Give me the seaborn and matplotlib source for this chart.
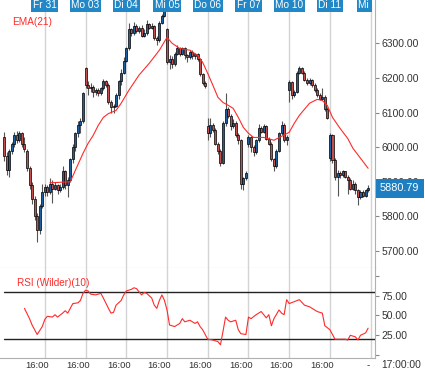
"""Intraday candlestick chart with EMA(21) overlay and RSI (Wilder)(10) panel."""

import matplotlib
matplotlib.use("Agg")
import matplotlib.pyplot as plt
import matplotlib.transforms as mtransforms
import numpy as np
import pandas as pd
import seaborn as sns

sns.set_theme(style="white")
plt.rcParams["font.family"] = ["Liberation Sans", "DejaVu Sans"]

# ── Data (16 half-hour candles per trading day) ───────────────────────────────

opens = [
    6030, 5975, 5935, 5990, 6010, 6035, 6020, 6040, 6010, 5990, 5940, 5890, 5850, 5800, 5760, 5830,
    5870, 5885, 5870, 5895, 5880, 5890, 5875, 5885, 5930, 5890, 5905, 5965, 6000, 6040, 6065, 6075,
    6228, 6180, 6170, 6175, 6160, 6165, 6155, 6170, 6190, 6180, 6130, 6115, 6120, 6150, 6190, 6215,
    6250, 6285, 6340, 6330, 6350, 6335, 6345, 6322, 6330, 6355, 6345, 6350, 6315, 6310, 6360, 6380,
    6340, 6245, 6255, 6240, 6270, 6285, 6270, 6285, 6265, 6260, 6275, 6262, 6268, 6255, 6210, 6185,
    6060, 6040, 6065, 6050, 6010, 5990, 5955, 6070, 6110, 6090, 6060, 6070, 6035, 6020, 5895, 5910,
    6010, 6028, 6000, 5985, 6020, 6055, 6045, 6060, 6025, 6010, 5965, 5945, 5990, 6040, 6065, 6020,
    6165, 6187, 6150, 6160, 6215, 6228, 6215, 6195, 6185, 6195, 6180, 6165, 6150, 6140, 6145, 6110,
    5970, 6034, 5962, 5915, 5925, 5920, 5930, 5915, 5905, 5880, 5895, 5875, 5855, 5870, 5860, 5875,
]
closes = [
    5975, 5935, 5990, 6010, 6035, 6020, 6040, 6010, 5995, 5940, 5890, 5850, 5800, 5760, 5830, 5870,
    5885, 5870, 5895, 5880, 5890, 5875, 5885, 5930, 5890, 5905, 5965, 6000, 6040, 6065, 6075, 6155,
    6180, 6170, 6175, 6160, 6165, 6155, 6170, 6190, 6180, 6130, 6115, 6120, 6150, 6190, 6215, 6250,
    6285, 6340, 6330, 6350, 6335, 6345, 6322, 6330, 6355, 6345, 6350, 6315, 6310, 6360, 6380, 6398,
    6245, 6255, 6240, 6270, 6285, 6270, 6285, 6265, 6260, 6275, 6262, 6268, 6255, 6210, 6185, 6178,
    6040, 6065, 6050, 6010, 5990, 5955, 6070, 6110, 6090, 6060, 6070, 6035, 6020, 5895, 5910, 5925,
    6028, 6000, 5985, 6020, 6055, 6045, 6060, 6025, 6010, 5965, 5945, 5990, 6040, 6065, 6020, 6030,
    6187, 6150, 6160, 6215, 6228, 6215, 6195, 6185, 6195, 6180, 6165, 6150, 6140, 6145, 6110, 6085,
    6034, 5962, 5915, 5925, 5920, 5930, 5915, 5905, 5880, 5895, 5875, 5855, 5870, 5860, 5875, 5880.79,
]
highs = [
    6045, 5985, 5995, 6015, 6045, 6048, 6048, 6045, 6030, 5995, 5945, 5900, 5860, 5810, 5835, 5895,
    5895, 5890, 5910, 5905, 5900, 5895, 5895, 5945, 5935, 5915, 5970, 6010, 6045, 6075, 6085, 6160,
    6232, 6190, 6185, 6180, 6172, 6170, 6175, 6198, 6195, 6185, 6135, 6125, 6155, 6195, 6225, 6260,
    6290, 6360, 6345, 6362, 6355, 6350, 6352, 6340, 6368, 6360, 6358, 6352, 6320, 6365, 6385, 6405,
    6345, 6265, 6262, 6275, 6295, 6290, 6290, 6290, 6270, 6280, 6280, 6272, 6272, 6258, 6215, 6190,
    6085, 6085, 6070, 6055, 6015, 5995, 6075, 6155, 6115, 6095, 6080, 6075, 6040, 6025, 5915, 5930,
    6035, 6032, 6005, 6025, 6068, 6060, 6068, 6065, 6030, 6015, 5970, 5995, 6045, 6075, 6070, 6035,
    6195, 6192, 6165, 6220, 6235, 6232, 6220, 6200, 6200, 6198, 6185, 6170, 6155, 6170, 6150, 6115,
    6040, 6038, 5968, 5935, 5930, 5935, 5932, 5920, 5910, 5905, 5900, 5880, 5875, 5875, 5880, 5890,
]
lows = [
    5960, 5920, 5915, 5980, 6000, 6012, 6015, 6000, 5985, 5930, 5880, 5835, 5790, 5725, 5750, 5825,
    5860, 5860, 5865, 5838, 5875, 5865, 5870, 5880, 5880, 5855, 5900, 5955, 5990, 6030, 6040, 6070,
    6170, 6150, 6160, 6145, 6150, 6148, 6150, 6165, 6175, 6125, 6100, 6100, 6115, 6140, 6180, 6210,
    6245, 6280, 6320, 6325, 6330, 6330, 6318, 6318, 6325, 6340, 6340, 6310, 6295, 6305, 6355, 6375,
    6240, 6225, 6228, 6235, 6265, 6262, 6265, 6255, 6245, 6255, 6255, 6255, 6250, 6205, 6180, 6172,
    6020, 6030, 6045, 6005, 5980, 5945, 5950, 6060, 6085, 6050, 6055, 6030, 6010, 5880, 5875, 5905,
    6000, 5985, 5975, 5980, 6015, 6040, 6040, 6020, 6005, 5960, 5930, 5940, 5985, 6035, 6015, 6005,
    6130, 6140, 6145, 6155, 6210, 6210, 6190, 6180, 6180, 6175, 6160, 6145, 6135, 6135, 6105, 6080,
    5960, 5955, 5905, 5860, 5910, 5915, 5910, 5865, 5875, 5875, 5865, 5832, 5850, 5855, 5855, 5870,
]

# EMA(21) at selected candle positions
ema_idx = [18, 26, 28, 31, 33, 35, 37, 39, 41, 44, 46, 49, 53, 57, 61, 64, 66, 69, 73, 76,
           78, 80, 82, 84, 86, 88, 90, 92, 94, 96, 98, 102, 106, 110, 112, 114, 116, 120,
           123, 125, 127, 129, 132, 135, 137, 140, 143]
ema_val = [5897, 5900, 5933, 5982, 6011, 6034, 6063, 6086, 6097, 6106, 6127, 6164, 6208, 6242,
           6280, 6317, 6300, 6285, 6280, 6265, 6245, 6213, 6179, 6144, 6129, 6121, 6112, 6086,
           6057, 6040, 6028, 6028, 6020, 6035, 6043, 6069, 6092, 6127, 6138, 6135, 6120, 6086,
           6054, 6025, 5997, 5968, 5939]

# RSI (Wilder)(10)
rsi_idx = [8, 10, 11, 13, 15, 16, 17, 19, 20, 21, 23, 24, 25, 26, 27, 29, 30, 31, 32, 33,
           34, 36, 38, 39, 41, 42, 43, 44, 46, 47, 48, 50, 51, 52, 54, 55, 56, 58, 59, 60,
           61, 62, 63, 64, 65, 67, 69, 70, 71, 73, 75, 76, 77, 78, 80, 82, 84, 85, 86, 87,
           88, 89, 91, 92, 93, 95, 96, 97, 99, 101, 103, 104, 105, 106, 108, 109, 110, 111,
           112, 116, 118, 120, 123, 125, 126, 128, 130, 134, 135, 136, 138, 139, 140, 142, 143]
rsi_val = [59, 46, 38, 26, 36, 45, 49, 48, 51, 48, 53, 56, 53, 59, 65, 66, 69, 78, 82, 81,
           77, 76, 78, 72, 59, 53, 54, 63, 69, 76, 81, 83, 85, 84, 76, 79, 78, 72, 63, 59,
           69, 76, 69, 57, 38, 36, 40, 46, 42, 44, 40, 42, 36, 32, 20, 19, 17, 13, 30, 48,
           44, 42, 44, 32, 27, 26, 48, 46, 51, 55, 47, 51, 37, 46, 57, 53, 51, 70,
           65, 70, 63, 61, 55, 53, 37, 32, 20, 20, 19, 25, 23, 19, 25, 28, 34]

day_labels = ["Fr 31", "Mo 03", "Di 04", "Mi 05", "Do 06", "Fr 07", "Mo 10", "Di 11", "Mi 12"]
CANDLES_PER_DAY = 16
price_ticks = [5700, 5800, 5900, 6000, 6100, 6200, 6300]
rsi_ticks = [0, 25, 50, 75, 100]
rsi_bands = [20, 80]

UP_COLOR = "#1f5f9e"
DOWN_COLOR = "#c0504d"
LINE_RED = "#ff2a2a"
LABEL_BLUE = "#2187c6"
GRID = "#d3d3d3"
TEXT = "#333333"

# ── Figure layout (pixel based) ───────────────────────────────────────────────

W, H = 425, 373
fig = plt.figure(figsize=(W / 100, H / 100), dpi=100)


def px_axes(x0, y0, x1, y1):
    return fig.add_axes([x0 / W, 1 - y1 / H, (x1 - x0) / W, (y1 - y0) / H])


ax = px_axes(0, 0, 375, 268)
ax_rsi = px_axes(0, 268, 375, 358)

df = pd.DataFrame({"open": opens, "high": highs, "low": lows, "close": closes})
df["idx"] = np.arange(len(df))
up = df["close"] >= df["open"]
day_starts = [CANDLES_PER_DAY * (k + 1) for k in range(len(day_labels))]

for a in (ax, ax_rsi):
    for d in day_starts:
        a.axvline(d, color=GRID, lw=1.0, zorder=0)
    a.set_xlim(-1.6, 145.7)
    for s in ("left", "top"):
        a.spines[s].set_visible(False)
    for s in ("right", "bottom"):
        a.spines[s].set_color("#b0b0b0")
        a.spines[s].set_linewidth(0.8)

# ── Price panel ───────────────────────────────────────────────────────────────

ax.vlines(df["idx"], df["low"], df["high"], color="#555555", lw=0.8, zorder=2)
body_low = df[["open", "close"]].min(axis=1)
body_h = (df["close"] - df["open"]).abs().clip(lower=1.5)
ax.bar(df["idx"], body_h, bottom=body_low, width=0.8,
       color=np.where(up, UP_COLOR, DOWN_COLOR), edgecolor="black", linewidth=0.5, zorder=3)
sns.lineplot(x=ema_idx, y=ema_val, ax=ax, color=LINE_RED, lw=0.8, zorder=4)

ax.set_ylim(5651, 6425)
ax.yaxis.tick_right()
ax.set_yticks(price_ticks)
ax.set_yticklabels([f"{v:.2f}" for v in price_ticks])
ax.set_xticks([])
ax.tick_params(axis="y", right=True, length=3, width=0.8, color="#888888",
               labelsize=7.5, labelcolor=TEXT, pad=1.5)

ax.text(3, 1 - 22 / 268, "EMA(21)", transform=mtransforms.blended_transform_factory(
    ax.transData, ax.transAxes), color=LINE_RED, fontsize=7.2, va="center", ha="left")

# day labels sit in blue tabs along the top, clipped at the last grid line
top = mtransforms.blended_transform_factory(ax.transData, ax.transAxes)
tab_clip = plt.Rectangle((0, 0), 372 / 375, 1, transform=ax.transAxes, visible=False)
ax.add_patch(tab_clip)
for d, lab in zip(day_starts, day_labels):
    t = ax.text(d, 1 - 5 / 268, lab, transform=top, ha="center", va="center", color="white",
                fontsize=7.3, clip_on=True, zorder=6,
                bbox=dict(boxstyle="square,pad=0.15", fc=LABEL_BLUE, ec="none"))
    t.set_clip_path(tab_clip)

last = closes[-1]
right = mtransforms.blended_transform_factory(ax.transAxes, ax.transData)
ax.text(380 / 375, last, f"{last:.2f}", transform=right, ha="left", va="center",
        color="white", fontsize=7.8, zorder=6, clip_on=False,
        bbox=dict(boxstyle="square,pad=0.4", fc="#1d7fc1", ec="none"))

# ── RSI panel ─────────────────────────────────────────────────────────────────

sns.lineplot(x=rsi_idx, y=rsi_val, ax=ax_rsi, color=LINE_RED, lw=0.8, zorder=4)
for b in rsi_bands:
    ax_rsi.axhline(b, xmin=0.01, color="#222222", lw=1.0, zorder=3)
ax_rsi.set_ylim(-3.7, 110)
ax_rsi.yaxis.tick_right()
ax_rsi.set_yticks(rsi_ticks)
ax_rsi.set_yticklabels(["" if v in (0, 100) else f"{v:.2f}" for v in rsi_ticks])
ax_rsi.tick_params(axis="y", right=True, length=3, width=0.8, color="#888888",
                   labelsize=7.5, labelcolor=TEXT, pad=1.5)

time_ticks = [CANDLES_PER_DAY * k + 13 for k in range(8)]
ax_rsi.set_xticks(time_ticks)
ax_rsi.set_xticklabels(["16:00"] * len(time_ticks))
ax_rsi.tick_params(axis="x", length=0, labelsize=6.8, labelcolor=TEXT, pad=2.5)

ax_rsi.text(5, 1 - 15 / 90, "RSI (Wilder)(10)", transform=mtransforms.blended_transform_factory(
    ax_rsi.transData, ax_rsi.transAxes), color=LINE_RED, fontsize=7.2, va="center", ha="left")

fig.text(368 / W, 1 - 365 / H, "-", fontsize=7, color=TEXT, ha="center", va="center")
fig.text(381 / W, 1 - 365 / H, "17:00:00", fontsize=7.4, color=TEXT, ha="left", va="center")

fig.savefig("out.png", dpi=100)
